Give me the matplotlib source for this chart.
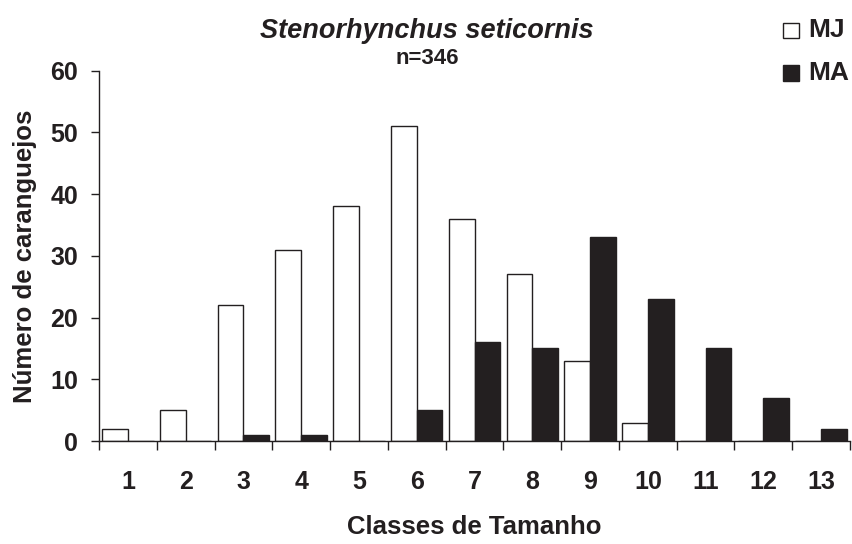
import numpy as np
import matplotlib.pyplot as plt
from matplotlib.patches import Rectangle

plt.rcParams['font.family'] = ['Liberation Sans', 'DejaVu Sans']

classes = np.arange(1, 14)
mj = [2, 5, 22, 31, 38, 51, 36, 27, 13, 3, 0, 0, 0]
ma = [0, 0, 1, 1, 0, 5, 16, 15, 33, 23, 15, 7, 2]

ink = '#231f20'

fig = plt.figure(figsize=(8.52, 5.44), dpi=100)
ax = fig.add_axes([0.1162, 0.1893, 0.8815, 0.6807])

w = 0.445
ax.bar(classes - w / 2, mj, width=w, color='white', edgecolor=ink, linewidth=1.0)
ax.bar(classes + w / 2, ma, width=w, color=ink, edgecolor=ink, linewidth=1.0)

ax.set_xlim(0.5, 13.5)
ax.set_ylim(0, 60)
ax.spines['top'].set_visible(False)
ax.spines['right'].set_visible(False)
for s in ('left', 'bottom'):
    ax.spines[s].set_color(ink)
    ax.spines[s].set_linewidth(1.0)

ax.set_yticks(np.arange(0, 61, 10))
ax.tick_params(axis='y', direction='out', length=6, width=1, pad=9, labelsize=18, colors=ink)
for lab in ax.get_yticklabels():
    lab.set_fontweight('bold')

# category boundaries carry the ticks, labels sit at the centres
ax.set_xticks(np.arange(0.5, 14, 1))
ax.set_xticklabels([])
ax.tick_params(axis='x', which='major', direction='out', length=6.5, width=1, colors=ink)
ax.set_xticks(classes, minor=True)
ax.set_xticklabels([str(c) for c in classes], minor=True, fontsize=18, fontweight='bold')
ax.tick_params(axis='x', which='minor', length=0, pad=21, labelcolor=ink)

ax.set_xlabel('Classes de Tamanho', fontsize=18.5, fontweight='bold', labelpad=15, color=ink)
ax.set_ylabel('Número de caranguejos', fontsize=18.5, fontweight='bold', color=ink)
ax.yaxis.set_label_coords(-0.083, 0.5)

fig.text(0.5006, 1 - 31 / 544, 'Stenorhynchus seticornis', ha='center', va='center',
         fontsize=19.5, fontweight='bold', style='italic', color=ink)
fig.text(0.5012, 1 - 59 / 544, 'n=346', ha='center', va='center', fontsize=16,
         fontweight='bold', color=ink)

# legend drawn by hand, top right corner
fig.patches.append(Rectangle((783 / 852, 1 - 38 / 544), 16 / 852, 15 / 544,
                             transform=fig.transFigure, facecolor='white',
                             edgecolor=ink, linewidth=1.0))
fig.patches.append(Rectangle((783 / 852, 1 - 81 / 544), 16 / 852, 16 / 544,
                             transform=fig.transFigure, facecolor=ink,
                             edgecolor=ink, linewidth=1.0))
fig.text(808 / 852, 1 - 30 / 544, 'MJ', ha='left', va='center', fontsize=19,
         fontweight='bold', color=ink)
fig.text(808 / 852, 1 - 73 / 544, 'MA', ha='left', va='center', fontsize=19,
         fontweight='bold', color=ink)

fig.savefig('out.png', dpi=100)
